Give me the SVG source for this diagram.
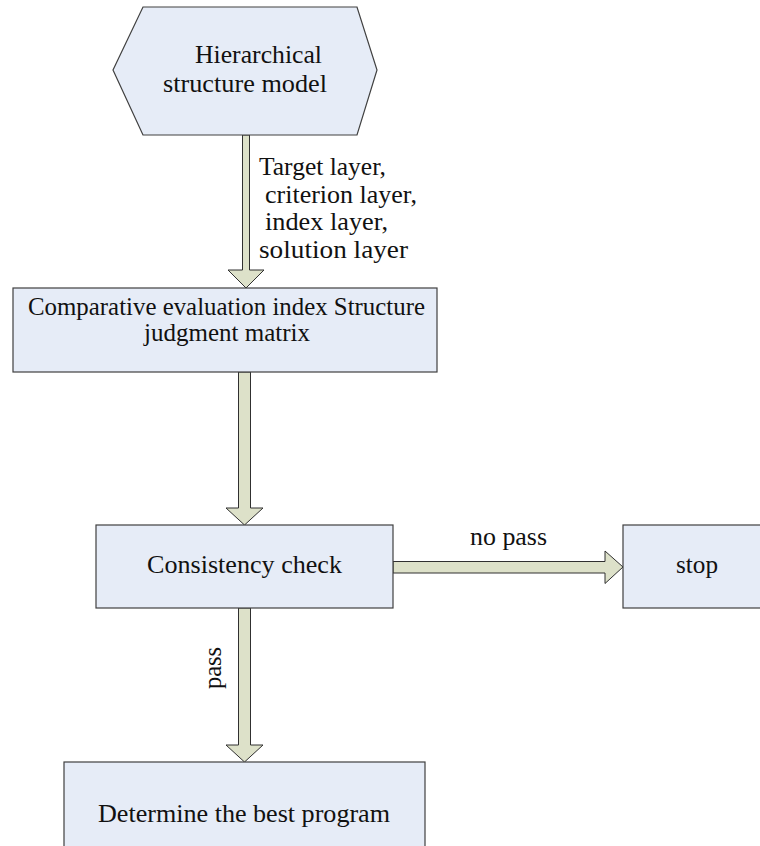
<svg xmlns="http://www.w3.org/2000/svg" width="760" height="846" viewBox="0 0 760 846">
<style>
.node{fill:#E6ECF7;stroke:#404040;stroke-width:1.2}
.arr{fill:#DDE1C9;stroke:#303030;stroke-width:1}
.t{font-family:"Liberation Serif","Times New Roman",serif;font-size:24.5px;fill:#111}
</style>
<rect width="760" height="846" fill="#fff"/>
<g id="connectors">
<polygon class="arr" points="242.5,135 249.5,135 249.5,270 264,270 246,288 228,270 242.5,270"/>
<polygon class="arr" points="238.5,372 250.5,372 250.5,508 263,508 244.5,525 226,508 238.5,508"/>
<polygon class="arr" points="393,561.5 605,561.5 605,551 623,567 605,583.5 605,573 393,573"/>
<polygon class="arr" points="238.5,608 250.5,608 250.5,745 263,745 244.5,762 226,745 238.5,745"/>
<text class="t" x="259" y="175" textLength="127" lengthAdjust="spacingAndGlyphs">Target layer,</text>
<text class="t" x="265" y="203" textLength="152" lengthAdjust="spacingAndGlyphs">criterion layer,</text>
<text class="t" x="265" y="230" textLength="123" lengthAdjust="spacingAndGlyphs">index layer,</text>
<text class="t" x="259" y="258" textLength="149" lengthAdjust="spacingAndGlyphs">solution layer</text>
<text class="t" x="470" y="545" textLength="77" lengthAdjust="spacingAndGlyphs">no pass</text>
<text class="t" transform="translate(221,668) rotate(-90)" text-anchor="middle">pass</text>
</g>
<g id="n1">
<polygon class="node" points="143,7 357,7 377,70 357,135 143,135 113,70"/>
<text class="t" x="195" y="63" textLength="127" lengthAdjust="spacingAndGlyphs">Hierarchical</text>
<text class="t" x="163" y="92" textLength="164" lengthAdjust="spacingAndGlyphs">structure model</text>
</g>
<g id="n2">
<rect class="node" x="13" y="288" width="424" height="84"/>
<text class="t" x="28" y="315" textLength="397" lengthAdjust="spacingAndGlyphs">Comparative evaluation index Structure</text>
<text class="t" x="144" y="341" textLength="166" lengthAdjust="spacingAndGlyphs">judgment matrix</text>
</g>
<g id="n3">
<rect class="node" x="96" y="525" width="297" height="83"/>
<text class="t" x="147" y="573" textLength="195" lengthAdjust="spacingAndGlyphs">Consistency check</text>
</g>
<g id="n4">
<rect class="node" x="623" y="525" width="140" height="83"/>
<text class="t" x="676" y="573" textLength="42" lengthAdjust="spacingAndGlyphs">stop</text>
</g>
<g id="n5">
<rect class="node" x="64" y="762" width="361" height="90"/>
<text class="t" x="98" y="822" textLength="292" lengthAdjust="spacingAndGlyphs">Determine the best program</text>
</g>
</svg>
